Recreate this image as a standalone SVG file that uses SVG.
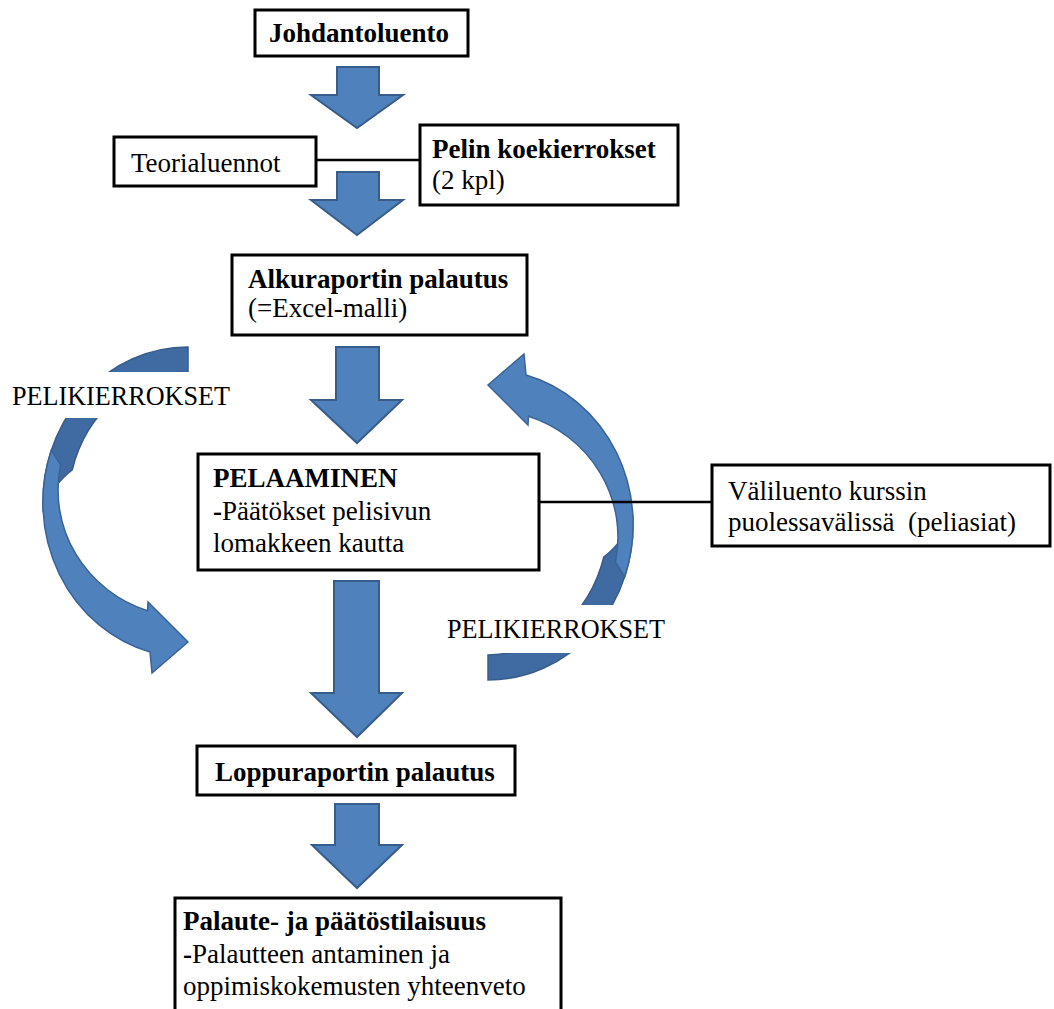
<svg xmlns="http://www.w3.org/2000/svg" xmlns:xlink="http://www.w3.org/1999/xlink" width="1054" height="1009" viewBox="0 0 1054 1009">
  <style>
    .box { fill: #ffffff; stroke: #000000; stroke-width: 3; }
    .link { stroke: #000000; stroke-width: 2.5; fill: none; }
    .blk { fill: #4F81BD; stroke: #385D8A; stroke-width: 2; stroke-linejoin: miter; }
    .front { fill: #4F81BD; stroke: #3A6497; stroke-width: 1.5; }
    .back { fill: #3F6BA2; stroke: #385D8A; stroke-width: 1.5; }
    text { font-family: "Liberation Serif", "Times New Roman", serif; font-size: 27px; fill: #000000; }
    .b { font-weight: bold; }
    .mask { fill: #ffffff; }
  </style>
  <defs>
    <!-- curved block arrow: darker back band on top, lighter front band ending in the head -->
    <g id="curl">
      <path class="back" d="M 188,347 A 145 155 0 0 0 43.3,512 Q 52,485 72.2,470 A 120 133 0 0 1 188,372 Z"/>
      <path class="front" d="M 51.4,450 A 145 155 0 0 0 150,652 L 152,673 L 188,642 L 148,602 L 147.5,610.7 A 130 127 0 0 1 60.6,465 Z"/>
    </g>
  </defs>
  <rect width="1054" height="1009" fill="#ffffff"/>

  <g id="connectors">
    <!-- round-trip arrows for the game rounds -->
    <use xlink:href="#curl" href="#curl"/>
    <use xlink:href="#curl" href="#curl" transform="rotate(180 338 513.5)"/>

    <!-- downward block arrows -->
    <polygon class="blk" points="337,67 379,67 379,95 403,95 357,128 311,95 337,95"/>
    <polygon class="blk" points="337,172 379,172 379,200 403,200 357,235 311,200 337,200"/>
    <polygon class="blk" points="336,347 379,347 379,400 402,400 357,443 311,400 336,400"/>
    <polygon class="blk" points="334,581 379,581 379,693 402,693 357,737 311,693 334,693"/>
    <polygon class="blk" points="335,804 379,804 379,845 402,845 357,888 312,845 335,845"/>

    <!-- side links -->
    <line class="link" x1="316" y1="160" x2="420" y2="160"/>
    <line class="link" x1="539" y1="502" x2="712" y2="502"/>
  </g>

  <!-- labels of the round-trip arrows (white text boxes) -->
  <g id="label-left">
    <rect class="mask" x="0" y="372" width="240" height="46"/>
    <text x="12" y="405" textLength="218" lengthAdjust="spacingAndGlyphs">PELIKIERROKSET</text>
  </g>
  <g id="label-right">
    <rect class="mask" x="437" y="605" width="243" height="48"/>
    <text x="447" y="638" textLength="218" lengthAdjust="spacingAndGlyphs">PELIKIERROKSET</text>
  </g>

  <g id="johdantoluento">
    <rect class="box" x="255" y="10" width="213" height="46"/>
    <text class="b" x="269" y="42">Johdantoluento</text>
  </g>

  <g id="teorialuennot">
    <rect class="box" x="114" y="137" width="202" height="49"/>
    <text x="131" y="172">Teorialuennot</text>
  </g>

  <g id="koekierrokset">
    <rect class="box" x="420" y="125" width="258" height="80"/>
    <text class="b" x="432" y="158">Pelin koekierrokset</text>
    <text x="432" y="189">(2 kpl)</text>
  </g>

  <g id="alkuraportti">
    <rect class="box" x="232" y="255" width="295" height="80"/>
    <text class="b" x="248" y="288">Alkuraportin palautus</text>
    <text x="248" y="317">(=Excel-malli)</text>
  </g>

  <g id="pelaaminen">
    <rect class="box" x="198" y="454" width="341" height="116"/>
    <text class="b" x="213" y="487">PELAAMINEN</text>
    <text x="213" y="520"><tspan class="b">-</tspan>Päätökset pelisivun</text>
    <text x="213" y="552">lomakkeen kautta</text>
  </g>

  <g id="valiluento">
    <rect class="box" x="712" y="465" width="338" height="81"/>
    <text x="728" y="500">Väliluento kurssin</text>
    <text x="728" y="531" xml:space="preserve">puolessavälissä  (peliasiat)</text>
  </g>

  <g id="loppuraportti">
    <rect class="box" x="197" y="746" width="318" height="49"/>
    <text class="b" x="215" y="781">Loppuraportin palautus</text>
  </g>

  <g id="palaute">
    <rect class="box" x="175" y="898" width="386" height="130"/>
    <text class="b" x="183" y="930">Palaute- ja päätöstilaisuus</text>
    <text x="183" y="963"><tspan class="b">-</tspan>Palautteen antaminen ja</text>
    <text x="183" y="995">oppimiskokemusten yhteenveto</text>
  </g>
</svg>
